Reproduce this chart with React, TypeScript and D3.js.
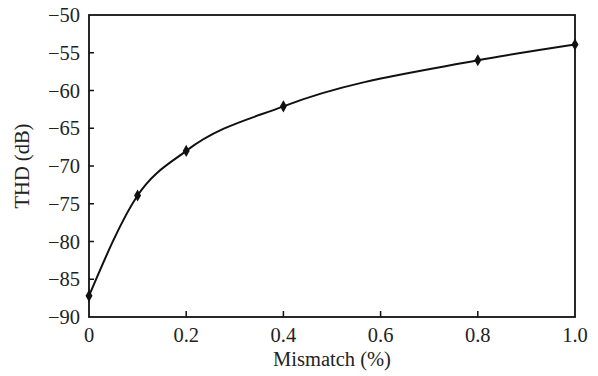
import React from "react";
import * as d3 from "d3";

const mismatch = [0, 0.1, 0.2, 0.4, 0.8, 1.0];
const thd = [-87.2, -73.9, -68.0, -62.1, -56.0, -53.9];
const xTicks = [0, 0.2, 0.4, 0.6, 0.8, 1.0];
const xTickLabels = ["0", "0.2", "0.4", "0.6", "0.8", "1.0"];
const yTicks = [-50, -55, -60, -65, -70, -75, -80, -85, -90];

const WIDTH = 598;
const HEIGHT = 376;
const margin = { top: 15, right: 23, bottom: 59, left: 89 };
const FONT = "'Liberation Serif', 'DejaVu Serif', serif";
const FS = 20.5;

export default function App() {
  const innerW = WIDTH - margin.left - margin.right;
  const innerH = HEIGHT - margin.top - margin.bottom;

  const x = d3.scaleLinear().domain([0, 1]).range([0, innerW]);
  const y = d3.scaleLinear().domain([-90, -50]).range([innerH, 0]);

  const points = mismatch.map((m, i) => [m, thd[i]] as [number, number]);

  const line = d3
    .line<[number, number]>()
    .x((d) => x(d[0]))
    .y((d) => y(d[1]))
    .curve(d3.curveMonotoneX);

  const diamond = d3.symbol().type(d3.symbolDiamond).size(42)();

  return (
    <svg
      width={WIDTH}
      height={HEIGHT}
      style={{ position: "absolute", left: 0, top: 0, background: "#fff" }}
      fontFamily={FONT}
    >
      <g transform={`translate(${margin.left},${margin.top})`}>
        <rect
          x={0}
          y={0}
          width={innerW}
          height={innerH}
          fill="none"
          stroke="#111"
          strokeWidth={1.8}
        />
        {yTicks.map((t) => (
          <g key={`y${t}`} transform={`translate(0,${y(t)})`}>
            {t !== -50 && t !== -90 && (
              <line x1={0} x2={5} stroke="#111" strokeWidth={1.5} />
            )}
            <text
              x={-9}
              dy="0.35em"
              textAnchor="end"
              fontSize={FS}
              fill="#222"
            >
              {"\u2212" + Math.abs(t)}
            </text>
          </g>
        ))}
        {xTicks.map((t, i) => (
          <g key={`x${t}`} transform={`translate(${x(t)},${innerH})`}>
            {i !== 0 && i !== xTicks.length - 1 && (
              <line y1={0} y2={-6} stroke="#111" strokeWidth={1.5} />
            )}
            <text y={25} textAnchor="middle" fontSize={FS} fill="#222">
              {xTickLabels[i]}
            </text>
          </g>
        ))}
        <path
          d={line(points) ?? ""}
          fill="none"
          stroke="#111"
          strokeWidth={2}
        />
        {points.map((p, i) => (
          <path
            key={i}
            d={diamond ?? ""}
            transform={`translate(${x(p[0])},${y(p[1])})`}
            fill="#111"
          />
        ))}
        <text
          x={innerW / 2}
          y={innerH + 49}
          textAnchor="middle"
          fontSize={FS}
          fill="#222"
        >
          Mismatch (%)
        </text>
        <text
          transform={`translate(${-60},${innerH / 2}) rotate(-90)`}
          textAnchor="middle"
          fontSize={FS}
          fill="#222"
        >
          THD (dB)
        </text>
      </g>
    </svg>
  );
}
